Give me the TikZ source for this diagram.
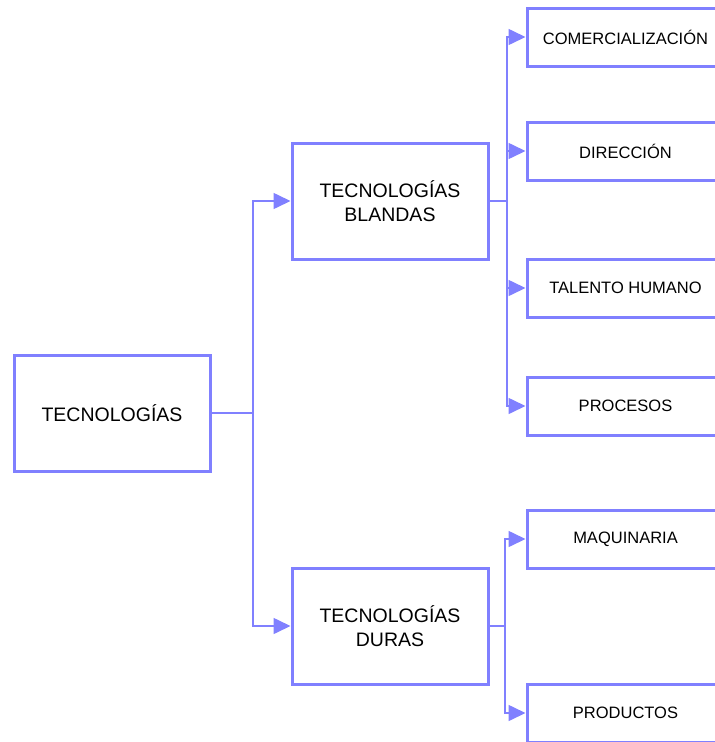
\documentclass[tikz,border=0pt]{standalone}
\usepackage{fontspec}
\setmainfont{Liberation Sans}
\usetikzlibrary{arrows.meta}
\definecolor{treeblue}{RGB}{128,128,255}
\tikzset{
  bigbox/.style={draw=treeblue, line width=3pt, fill=white, minimum width=196pt, minimum height=116pt, inner sep=0pt, align=center, font=\fontsize{19.5}{23.5}\selectfont},
  leafbox/.style={draw=treeblue, line width=3pt, fill=white, minimum width=197pt, minimum height=58pt, inner sep=0pt, align=center, font=\fontsize{16.5}{19}\selectfont},
  link/.style={draw=treeblue, line width=1.6pt},
  arrowlink/.style={link, -{Triangle[length=17pt,width=16pt]}},
}
\begin{document}
\begin{tikzpicture}[x=1pt,y=-1pt]
\useasboundingbox (0,0) rectangle (715,742);
\clip (0,0) rectangle (715,742);
% root and second level
\node[bigbox] (root) at (112,413) {TECNOLOG\'IAS};
\node[bigbox] (soft) at (390,201) {TECNOLOG\'IAS\\BLANDAS};
\node[bigbox] (hard) at (390,626) {TECNOLOG\'IAS\\DURAS};
% leaves
\node[leafbox] (com) at (625.5,37) {COMERCIALIZACI\'ON};
\node[leafbox] (dir) at (625.5,151) {DIRECCI\'ON};
\node[leafbox] (tal) at (625.5,288) {TALENTO HUMANO};
\node[leafbox] (pro) at (625.5,406) {PROCESOS};
\node[leafbox] (maq) at (625.5,539) {MAQUINARIA};
\node[leafbox] (prd) at (625.5,713) {PRODUCTOS};
% branch junctions
\coordinate (j0) at (253,413);
\coordinate (j1) at (507,201);
\coordinate (j2) at (505,626);
% root to second level
\draw[link] (root.east) -- (j0);
\draw[arrowlink] (j0) |- (soft.west);
\draw[arrowlink] (j0) |- (hard.west);
% soft technologies
\draw[link] (soft.east) -- (j1);
\foreach \t in {com,dir,tal,pro}
  \draw[arrowlink] (j1) |- (\t.west);
% hard technologies
\draw[link] (hard.east) -- (j2);
\foreach \t in {maq,prd}
  \draw[arrowlink] (j2) |- (\t.west);
\end{tikzpicture}
\end{document}
